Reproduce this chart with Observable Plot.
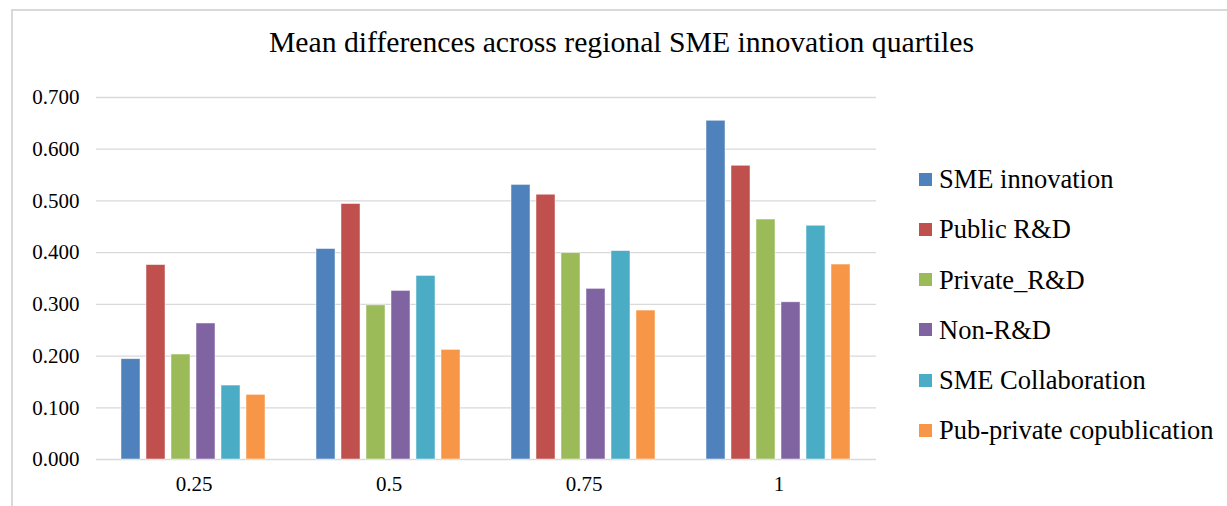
<!DOCTYPE html>
<html>
<head>
<meta charset="utf-8">
<script src="https://cdn.jsdelivr.net/npm/d3@7"></script>
<script src="https://cdn.jsdelivr.net/npm/@observablehq/plot@0.6"></script>
<style>
  html, body { margin: 0; padding: 0; background: #fff; overflow: hidden; }
  #wrap { position: relative; width: 1227px; height: 506px; overflow: hidden; font-family: "Liberation Serif", "Times New Roman", serif; color: #000; }
  #frame { position: absolute; left: 11px; top: 9px; width: 1400px; height: 700px; border-left: 2px solid #d9d9d9; border-top: 2px solid #d9d9d9; }
  #title { position: absolute; left: 0; width: 1243px; top: 28px; text-align: center; font-size: 29.7px; line-height: 29.7px; white-space: nowrap; }
  #chart { position: absolute; left: 0; top: 0; }
  #chart svg, #chart svg text { font-family: "Liberation Serif", "Times New Roman", serif !important; }
  #legend { position: absolute; left: 919px; top: 166px; }
  .item { display: flex; align-items: center; height: 26px; margin-bottom: 24.3px; font-size: 26.5px; line-height: 26px; white-space: nowrap; }
  .sw { width: 13px; height: 13px; margin-right: 7px; flex: none; }
</style>
</head>
<body>
<div id="wrap">
  <div id="frame"></div>
  <div id="title">Mean differences across regional SME innovation quartiles</div>
  <div id="chart"></div>
  <div id="legend"></div>
</div>
<script>
const quartiles = ["0.25", "0.5", "0.75", "1"];
const seriesNames = ["SME innovation", "Public R&D", "Private_R&D", "Non-R&D", "SME Collaboration", "Pub-private copublication"];
const seriesColors = ["#4f81bd", "#c0504d", "#9bbb59", "#8064a2", "#4bacc6", "#f79646"];
const smeInnovation = [0.194, 0.407, 0.531, 0.655];
const publicRD = [0.376, 0.494, 0.512, 0.568];
const privateRD = [0.203, 0.298, 0.399, 0.464];
const nonRD = [0.263, 0.326, 0.330, 0.304];
const smeCollaboration = [0.143, 0.355, 0.403, 0.452];
const pubPrivateCopub = [0.125, 0.212, 0.288, 0.377];
const yTicks = [0, 0.1, 0.2, 0.3, 0.4, 0.5, 0.6, 0.7];

const seriesValues = [smeInnovation, publicRD, privateRD, nonRD, smeCollaboration, pubPrivateCopub];
const data = [];
quartiles.forEach((q, i) => {
  seriesNames.forEach((s, j) => {
    data.push({quartile: q, series: s, value: seriesValues[j][i]});
  });
});

const chart = Plot.plot({
  width: 1227,
  height: 506,
  marginLeft: 95,
  marginRight: 351,
  marginTop: 97,
  marginBottom: 47,
  style: {fontFamily: "'Liberation Serif', 'Times New Roman', serif", fontSize: "21px", color: "#000", background: "transparent", overflow: "visible"},
  fx: {domain: quartiles, padding: 0, axis: "bottom", label: null, tickSize: 0, tickPadding: 17},
  x: {domain: seriesNames, paddingInner: 0.23, paddingOuter: 0.87, axis: null},
  y: {domain: [0, 0.7], ticks: yTicks, tickFormat: d3.format(".3f"), tickSize: 0, tickPadding: 17, label: null},
  color: {domain: seriesNames, range: seriesColors},
  marks: [
    Plot.gridY(yTicks, {stroke: "#d9d9d9", strokeOpacity: 1, strokeWidth: 1.3}),
    Plot.barY(data, {fx: "quartile", x: "series", y: "value", fill: "series", stroke: "#ffffff", strokeOpacity: 0.6, strokeWidth: 0.8})
  ]
});
document.getElementById("chart").appendChild(chart);

const legend = document.getElementById("legend");
seriesNames.forEach((s, i) => {
  const row = document.createElement("div");
  row.className = "item";
  const sw = document.createElement("span");
  sw.className = "sw";
  sw.style.background = seriesColors[i];
  const t = document.createElement("span");
  t.textContent = s;
  row.appendChild(sw);
  row.appendChild(t);
  legend.appendChild(row);
});
</script>
</body>
</html>
